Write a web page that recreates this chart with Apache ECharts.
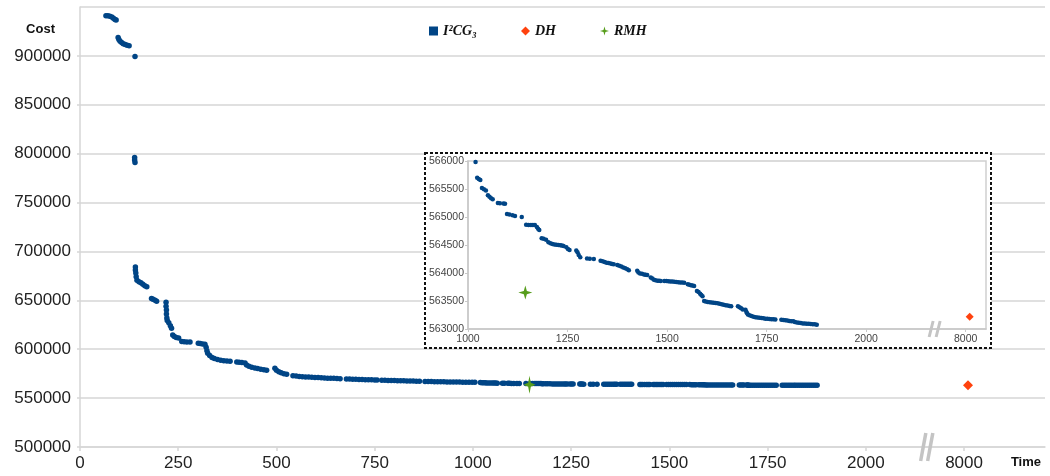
<!DOCTYPE html>
<html>
<head>
<meta charset="utf-8">
<title>Cost over time</title>
<script src="https://cdn.jsdelivr.net/npm/echarts@6/dist/echarts.min.js"></script>
<style>
html, body { margin: 0; padding: 0; background: #fff; }
#chart { width: 1050px; height: 476px; }
</style>
</head>
<body>
<div id="chart"></div>
<script>
// I²CG₃ runs: [time, cost]
var icgPoints = [
  [66,941000],[71,941000],[76,940600],[81,939800],[85,938500],[89,937200],[92,936600],
  [97,918800],[99,916800],[102,915000],[106,913600],[110,912500],[115,911600],[120,910900],[125,910300],
  [140,899300],
  [139,796000],[139,793500],[140,791000],
  [141,684000],[141,681000],[142,678000],[143,674000],[145,670500],[150,669000],[155,668000],[160,666500],[165,665000],[170,663800],
  [182,652000],[186,651000],[191,650000],[195,649000],
  [219,648000],[219,644000],[220,640000],[220,636000],[221,632000],[222,629500],[226,627000],[230,624000],[233,621500],
  [236,614500],[240,613000],[245,612000],[251,611500],
  [259,607800],[265,607600],[272,607500],[280,607300],
  [301,606200],[306,605800],[312,605400],[318,605000],
  [321,602000],[323,598500],[325,596000],[330,593500],[336,591500],[342,590500],[350,589500],[358,588800],[366,588200],[374,587900],[382,587700],
  [399,587000],[405,586800],[412,586500],[420,586000],
  [424,583800],[430,582500],[437,581500],[445,580800],[452,580200],[460,579600],[468,579000],[475,578600],
  [496,580500],[500,578500],[506,577000],[512,576000],[519,575000],[526,574500],
  [542,572800],[550,572500],[558,572200],[566,571900],[574,571700],[582,571500],[590,571300],[598,571200],[606,571000],[614,570800],[622,570600],[630,570400],[638,570300],[646,570200],[654,570000],[662,569900],
  [678,569600],[686,569500],[694,569400],[702,569300],[710,569100],[718,569000],[726,568900],[734,568800],[742,568700],[750,568600],[756,568500],
  [768,568300],[776,568200],[784,568100],[792,568000],[800,567950],[808,567850],[816,567750],[824,567650],[832,567550],[840,567500],[848,567400],[856,567300],[864,567200],
  [878,567000],[886,566950],[894,566900],[902,566850],[910,566800],[918,566700],[926,566650],[934,566600],[942,566550],[950,566500],[958,566420],[966,566380],[974,566320],[982,566260],[990,566200],[998,566160],[1005,566120],
  [1019,565980],
  [1023,565700],[1027,565680],[1031,565660],
  [1035,565520],[1040,565495],[1045,565475],
  [1050,565390],[1054,565360],[1058,565335],[1062,565315],
  [1075,565250],[1080,565245],[1089,565240],[1093,565235],
  [1098,565055],[1104,565045],[1112,565030],[1118,565020],
  [1135,565000],
  [1146,564860],[1152,564858],[1158,564857],[1163,564856],[1168,564855],
  [1173,564820],[1176,564790],[1179,564770],
  [1185,564620],[1190,564610],[1196,564595],
  [1202,564550],[1207,564530],[1212,564520],[1217,564510],[1222,564505],[1227,564500],[1232,564495],[1236,564490],[1240,564480],
  [1247,564460],[1251,564430],[1255,564410],
  [1272,564400],[1275,564370],[1278,564320],[1282,564280],
  [1299,564260],[1306,564255],[1316,564248],
  [1333,564220],[1338,564210],[1343,564195],[1348,564185],[1353,564178],[1358,564170],[1362,564162],[1366,564155],
  [1375,564145],[1380,564130],[1385,564115],[1390,564100],[1395,564085],[1400,564065],[1404,564050],
  [1425,564040],[1428,564010],[1432,563990],[1437,563985],[1442,563975],[1446,563970],[1450,563965],
  [1459,563920],[1463,563900],[1467,563880],[1471,563870],[1476,563862],[1480,563860],[1484,563858],
  [1493,563857],[1498,563855],[1503,563852],[1508,563850],[1513,563848],[1518,563845],[1523,563840],[1528,563835],[1533,563832],[1538,563830],[1543,563826],
  [1552,563800],[1556,563790],[1560,563782],[1564,563775],[1568,563768],
  [1575,563680],[1579,563660],[1583,563630],[1586,563605],[1589,563585],
  [1593,563500],[1597,563490],[1602,563482],[1607,563478],[1612,563474],[1617,563470],[1622,563465],[1627,563458],[1632,563450],[1637,563440],[1642,563432],[1647,563425],[1652,563418],[1657,563412],[1661,563408],
  [1678,563405],[1682,563390],[1686,563370],[1690,563350],
  [1697,563345],[1699,563310],[1701,563280],[1703,563258],
  [1707,563245],[1712,563230],[1717,563220],[1722,563212],[1727,563205],[1732,563200],[1737,563195],[1742,563190],[1747,563185],[1752,563182],[1757,563178],[1762,563175],[1767,563172],[1772,563168],
  [1787,563165],[1792,563160],[1797,563155],[1802,563150],[1807,563145],[1812,563140],[1817,563138],
  [1821,563125],[1826,563118],[1831,563110],[1836,563105],[1841,563100],[1846,563097],[1851,563095],[1856,563092],[1861,563090],[1866,563087],[1871,563083],[1876,563078]
];
var dhPoints = [[8010, 563220]];
var rmhPoints = [[1144, 563650]];

var mainTimeTicks = [0, 250, 500, 750, 1000, 1250, 1500, 1750, 2000, 8000];
var insetTimeTicks = [1000, 1250, 1500, 1750, 2000, 8000];
var mainCostRange = [500000, 950000, 50000];
var insetCostRange = [563000, 566000, 500];

// the time axis is cut between 2000 and 8000: 8000 sits one step after 2000
var BREAK_TO = 8000, BREAK_AT = 2250;
function axisX(t) { return t >= BREAK_TO - 500 ? BREAK_AT + (t - BREAK_TO) : t; }
function timeLabel(v) { return v >= BREAK_AT ? String(v - BREAK_AT + BREAK_TO) : String(v); }
function plain(v) { return String(v); }
function toAxis(list) { return list.map(function (p) { return [axisX(p[0]), p[1]]; }); }

var SANS = '"Liberation Sans", Arial, sans-serif';
var SERIF = '"Liberation Serif", "DejaVu Serif", serif';
var BLUE = '#004586', ORANGE = '#ff420e', GREEN = '#579d1c';
var GRID_GRAY = '#d6d6d6';
var star = 'path://M0,-10L2.2,-2.2L10,0L2.2,2.2L0,10L-2.2,2.2L-10,0L-2.2,-2.2Z';

var chart = echarts.init(document.getElementById('chart'), null, { renderer: 'canvas' });

var option = {
  animation: false,
  backgroundColor: '#fff',
  legend: {
    left: 424,
    top: 19,
    itemWidth: 9,
    itemHeight: 9,
    itemGap: 44,
    textStyle: { fontFamily: SERIF, fontStyle: 'italic', fontWeight: 'bold', fontSize: 14, color: '#111' },
    data: [
      { name: 'I²CG₃', icon: 'rect' },
      { name: 'DH', icon: 'diamond' },
      { name: 'RMH', icon: star }
    ]
  },
  grid: [
    { left: 80, top: 7, right: 5, bottom: 29 },
    { left: 468, top: 161, right: 64, bottom: 147, show: true, backgroundColor: '#fff',
      borderColor: '#cfcfcf', borderWidth: 1.5, z: 4 }
  ],
  xAxis: [{
    type: 'value', gridIndex: 0, min: 0, max: 2456,
    name: 'Time', nameLocation: 'end', nameGap: -4,
    nameTextStyle: { fontFamily: SANS, fontWeight: 'bold', fontSize: 13, color: '#111',
      align: 'right', verticalAlign: 'top', padding: [9, 0, 0, 0] },
    axisLine: { lineStyle: { color: GRID_GRAY, width: 1.5 } },
    axisTick: { show: true, length: 4, lineStyle: { color: GRID_GRAY, width: 1.5 },
      customValues: mainTimeTicks.map(axisX) },
    axisLabel: { fontFamily: SANS, fontSize: 17, color: '#222', margin: 8,
      customValues: mainTimeTicks.map(axisX), formatter: timeLabel },
    splitLine: { show: false }
  }, {
    type: 'value', gridIndex: 1, min: 1000, max: 2301, z: 5,
    axisLine: { lineStyle: { color: '#c8c8c8', width: 1.5 } },
    axisTick: { show: true, length: 3, lineStyle: { color: '#c8c8c8' },
      customValues: insetTimeTicks.map(axisX) },
    axisLabel: { fontFamily: SANS, fontSize: 10.5, color: '#444', margin: 5,
      customValues: insetTimeTicks.map(axisX), formatter: timeLabel },
    splitLine: { show: false }
  }],
  yAxis: [{
    type: 'value', gridIndex: 0,
    min: mainCostRange[0], max: mainCostRange[1], interval: mainCostRange[2],
    name: 'Cost', nameLocation: 'end', nameGap: -16,
    nameTextStyle: { fontFamily: SANS, fontWeight: 'bold', fontSize: 13, color: '#111',
      align: 'right', verticalAlign: 'top', padding: [0, 25, 0, 0] },
    axisLine: { show: true, lineStyle: { color: GRID_GRAY, width: 1.5 } },
    axisTick: { show: true, length: 3, lineStyle: { color: GRID_GRAY, width: 1.5 } },
    axisLabel: { fontFamily: SANS, fontSize: 17, color: '#222', margin: 9, showMaxLabel: false, formatter: plain },
    splitLine: { lineStyle: { color: GRID_GRAY, width: 1.5 } }
  }, {
    type: 'value', gridIndex: 1, z: 5,
    min: insetCostRange[0], max: insetCostRange[1], interval: insetCostRange[2],
    axisLine: { show: true, lineStyle: { color: '#c8c8c8', width: 1.5 } },
    axisTick: { show: true, length: 3, lineStyle: { color: '#c8c8c8' } },
    axisLabel: { fontFamily: SANS, fontSize: 10.5, color: '#444', margin: 4, formatter: plain },
    splitLine: { show: false }
  }],
  series: [
    { name: 'I²CG₃', type: 'scatter', xAxisIndex: 0, yAxisIndex: 0, symbol: 'circle', symbolSize: 5.5,
      itemStyle: { color: BLUE, opacity: 1 }, data: toAxis(icgPoints) },
    { name: 'DH', type: 'scatter', xAxisIndex: 0, yAxisIndex: 0, symbol: 'diamond', symbolSize: 10,
      itemStyle: { color: ORANGE, opacity: 1 }, data: toAxis(dhPoints) },
    { name: 'RMH', type: 'scatter', xAxisIndex: 0, yAxisIndex: 0, symbol: star, symbolSize: [12, 18],
      itemStyle: { color: GREEN, opacity: 1 }, data: toAxis(rmhPoints), z: 3 },
    { name: 'I²CG₃', type: 'scatter', xAxisIndex: 1, yAxisIndex: 1, symbol: 'circle', symbolSize: 4.5,
      itemStyle: { color: BLUE, opacity: 1 }, data: toAxis(icgPoints), z: 6, clip: true },
    { name: 'DH', type: 'scatter', xAxisIndex: 1, yAxisIndex: 1, symbol: 'diamond', symbolSize: 8,
      itemStyle: { color: ORANGE, opacity: 1 }, data: toAxis(dhPoints), z: 6, clip: true },
    { name: 'RMH', type: 'scatter', xAxisIndex: 1, yAxisIndex: 1, symbol: star, symbolSize: 14,
      itemStyle: { color: GREEN, opacity: 1 }, data: toAxis(rmhPoints), z: 6, clip: true }
  ]
};
chart.setOption(option);

// "//" marks where the time axis is cut, plus the dotted frame round the zoomed view
function breakMarks(xAxisIndex, yAxisIndex, at, cost, half, slant, width) {
  var p = chart.convertToPixel({ xAxisIndex: xAxisIndex, yAxisIndex: yAxisIndex }, [at, cost]);
  return [-3.5, 3.5].map(function (dx) {
    return {
      type: 'line', z: 12,
      shape: { x1: p[0] + dx - slant, y1: p[1] + half, x2: p[0] + dx + slant, y2: p[1] - half },
      style: { stroke: '#c4c4c4', lineWidth: width }
    };
  });
}
var frame = { x: 425, y: 153, width: 566, height: 195 };
chart.setOption({
  graphic: [
    { type: 'rect', z: 1, shape: frame, style: { fill: '#fff' } },
    { type: 'rect', z: 12, shape: frame, style: { fill: null, stroke: '#111', lineWidth: 2, lineDash: [3, 2] } }
  ].concat(breakMarks(0, 0, 2155, mainCostRange[0], 14, 2.6, 3.5))
   .concat(breakMarks(1, 1, 2172, insetCostRange[0], 8, 2, 3))
});

window.addEventListener('resize', function () { chart.resize(); });
</script>
</body>
</html>
